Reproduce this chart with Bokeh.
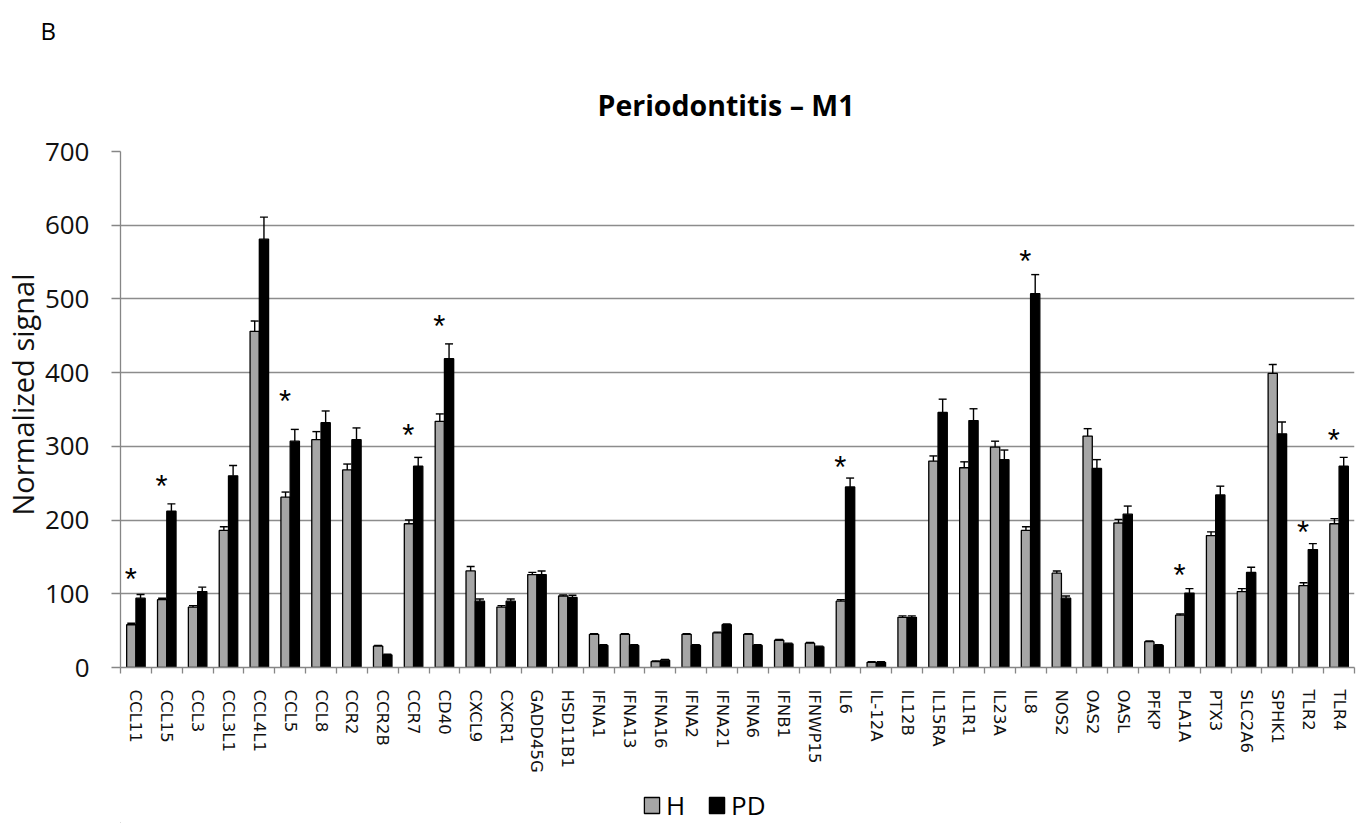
import numpy as np
from bokeh.plotting import figure
from bokeh.layouts import column
from bokeh.models import (ColumnDataSource, FixedTicker, Whisker, TeeHead, Title,
                          Legend, LegendItem, Range1d)
from bokeh.embed import file_html
from bokeh.resources import INLINE

genes = ["CCL11", "CCL15", "CCL3", "CCL3L1", "CCL4L1", "CCL5", "CCL8", "CCR2", "CCR2B",
         "CCR7", "CD40", "CXCL9", "CXCR1", "GADD45G", "HSD11B1", "IFNA1", "IFNA13",
         "IFNA16", "IFNA2", "IFNA21", "IFNA6", "IFNB1", "IFNWP15", "IL6", "IL-12A",
         "IL12B", "IL15RA", "IL1R1", "IL23A", "IL8", "NOS2", "OAS2", "OASL", "PFKP",
         "PLA1A", "PTX3", "SLC2A6", "SPHK1", "TLR2", "TLR4"]

h_vals = [58, 92, 82, 186, 456, 231, 309, 268, 29, 195, 334, 131, 82, 126, 97, 45, 45,
          8, 45, 47, 45, 37, 33, 90, 7, 68, 280, 271, 299, 186, 128, 314, 196, 35,
          71, 179, 103, 399, 111, 195]
h_err = [2, 2, 2, 5, 14, 7, 11, 8, 1, 5, 10, 6, 2, 3, 1.5, 1, 1, 1, 1, 1, 1, 1, 1,
         2, 1, 2, 7, 8, 8, 5, 3, 10, 5, 1, 1.5, 5, 4, 12, 4, 7]
pd_vals = [94, 212, 103, 260, 581, 307, 332, 309, 17, 273, 419, 90, 90, 126, 95, 30,
           30, 10, 30, 58, 30, 32, 28, 245, 7, 68, 346, 335, 282, 507, 94, 270, 208,
           30, 101, 234, 129, 317, 160, 273]
pd_err = [5, 10, 6, 14, 30, 16, 16, 16, 1, 12, 20, 3, 3, 5, 3, 1, 1, 1, 1, 1, 1, 1, 1,
          12, 1, 2, 18, 16, 13, 26, 3, 12, 11, 1, 6, 12, 7, 16, 8, 12]

star_genes = ["CCL11", "CCL15", "CCL5", "CCR7", "CD40", "IL6", "IL8", "PLA1A", "TLR2", "TLR4"]
star_levels = [126, 252, 367, 321, 469, 278, 558, 131, 190, 315]

y_ticks = [0, 100, 200, 300, 400, 500, 600, 700]
series_names = ["H", "PD"]

H_COLOR = "#a6a6a6"
PD_COLOR = "black"

n = len(genes)
idx = np.arange(n)
off = 0.15

src = ColumnDataSource(dict(
    xh=idx - off, xp=idx + off,
    h=h_vals, p=pd_vals,
    h_up=np.array(h_vals) + np.array(h_err),
    p_up=np.array(pd_vals) + np.array(pd_err),
))

p = figure(width=1362, height=777, output_backend="svg", toolbar_location=None,
           x_range=Range1d(-0.5, n - 0.5), y_range=Range1d(0, 700),
           min_border_left=119, min_border_right=8, min_border_top=151,
           min_border_bottom=110)
p.outline_line_color = None
p.background_fill_color = "white"
p.border_fill_color = "white"

rH = p.vbar(x="xh", top="h", width=0.3, source=src, fill_color=H_COLOR,
            line_color="black", line_width=1.3)
rP = p.vbar(x="xp", top="p", width=0.3, source=src, fill_color=PD_COLOR,
            line_color="black", line_width=1.3)

for base, low, up in (("xh", "h", "h_up"), ("xp", "p", "p_up")):
    w = Whisker(base=base, lower=low, upper=up, source=src, dimension="height",
                upper_head=TeeHead(size=8, line_color="black", line_width=1.4),
                lower_head=None, line_color="black", line_width=1.4, level="glyph")
    p.add_layout(w)

sx = [genes.index(g) - 0.17 for g in star_genes]
p.text(x=sx, y=star_levels, text=["*"] * len(sx), text_font_size="31px",
       text_align="center", text_baseline="alphabetic", y_offset=5,
       text_color="black")

# axes
p.xaxis.ticker = FixedTicker(ticks=list(range(n)),
                             minor_ticks=[i - 0.5 for i in range(n + 1)])
p.xaxis.major_label_overrides = {i: g for i, g in enumerate(genes)}
p.xaxis.major_label_orientation = "vertical"
p.xaxis.major_tick_out = 0
p.xaxis.major_tick_in = 0
p.xaxis.minor_tick_out = 6
p.xaxis.minor_tick_in = 0
p.xaxis.minor_tick_line_color = "#868686"
p.xaxis.minor_tick_line_width = 1.3
p.xaxis.axis_line_color = "#868686"
p.xaxis.axis_line_width = 1.3
p.xaxis.major_label_text_font = "DejaVu Sans"
p.xaxis.major_label_text_font_size = "16.5px"
p.xaxis.major_label_text_color = "#111111"
p.xaxis.major_label_standoff = 16

p.yaxis.ticker = FixedTicker(ticks=y_ticks, minor_ticks=[])
p.yaxis.major_tick_out = 9
p.yaxis.major_tick_in = 0
p.yaxis.minor_tick_out = 0
p.yaxis.major_tick_line_color = "#868686"
p.yaxis.major_tick_line_width = 1.3
p.yaxis.axis_line_color = "#868686"
p.yaxis.axis_line_width = 1.3
p.yaxis.major_label_text_font = "Open Sans"
p.yaxis.major_label_text_font_size = "26px"
p.yaxis.major_label_text_color = "#111111"
p.yaxis.major_label_standoff = 22

p.xgrid.visible = False
p.ygrid.grid_line_color = "#8c8c8c"
p.ygrid.grid_line_width = 1.3

# panel letter (outermost) and chart title (next to the frame)
p.title.text = "B"
p.title.align = "left"
p.title.offset = -80
p.title.vertical_align = "top"
p.title.text_font = "Open Sans"
p.title.text_font_size = "24px"
p.title.text_font_style = "normal"
p.title.text_color = "black"
p.title.standoff = 14

p.add_layout(Title(text="Periodontitis – M1", align="left", offset=477,
                   text_font="Open Sans", text_font_size="28.5px",
                   text_font_style="bold", text_color="black",
                   vertical_align="bottom", standoff=56), "above")

p.add_layout(Title(text="Normalized signal", align="left", offset=152,
                   text_font="Open Sans", text_font_size="29px",
                   text_font_style="normal", text_color="#111111", standoff=0),
             "left")

# legend strip below the chart (its frame is aligned with the chart's frame)
lg = figure(width=1362, height=46, output_backend="svg", toolbar_location=None,
            x_axis_location=None, y_axis_location=None,
            x_range=Range1d(0, 1), y_range=Range1d(0, 1), min_border=0)
lg.outline_line_color = None
lg.xgrid.visible = False
lg.ygrid.visible = False
dH = lg.vbar(x=[-5], top=[-5], width=0.1, fill_color=H_COLOR, line_color="black",
             line_width=1.3)
dP = lg.vbar(x=[-5], top=[-5], width=0.1, fill_color=PD_COLOR, line_color="black",
             line_width=1.3)
legend = Legend(items=[LegendItem(label=series_names[0], renderers=[dH]),
                       LegendItem(label=series_names[1], renderers=[dP])],
                orientation="horizontal", location=(522, 0),
                glyph_width=19, glyph_height=20, label_text_font="Open Sans",
                label_text_font_size="26px", label_text_color="black",
                padding=0, margin=0, spacing=21,
                label_standoff=5, border_line_color=None, background_fill_alpha=0)
lg.add_layout(legend)

layout = column(p, lg, spacing=0)
open("out.html", "w").write(file_html(layout, INLINE))
